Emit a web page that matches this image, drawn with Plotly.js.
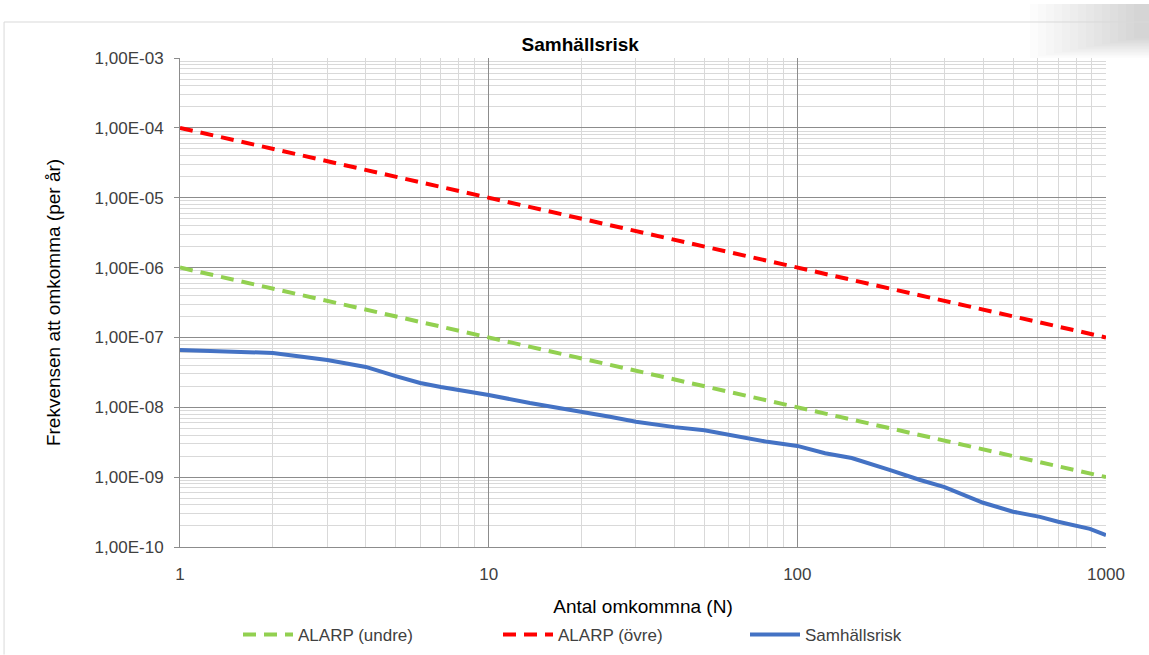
<!DOCTYPE html>
<html>
<head>
<meta charset="utf-8">
<script src="https://cdn.plot.ly/plotly-3.0.1.min.js"></script>
<style>html,body{margin:0;padding:0;background:#fff;}#chart{width:1149px;height:655px;}</style>
</head>
<body>
<div id="chart"></div>
<script>
// ALARP limits
const alarpN = [1, 1000];
const alarpUndre = [1e-6, 1e-9];
const alarpOvre = [1e-4, 1e-7];

// Samhällsrisk (F/N curve)
const riskN = [1, 2, 3, 4, 5, 6, 7, 8, 10, 13.6, 17, 20, 24.7, 30, 40, 50, 60, 70, 80, 100, 123, 150, 172, 200, 250, 300, 400, 500, 611, 700, 887, 1000];
const riskF = [6.6e-8, 6.0e-8, 4.75e-8, 3.78e-8, 2.8e-8, 2.23e-8, 1.95e-8, 1.77e-8, 1.5e-8, 1.15e-8, 9.8e-9, 8.6e-9, 7.3e-9, 6.2e-9, 5.2e-9, 4.7e-9, 4.0e-9, 3.5e-9, 3.2e-9, 2.8e-9, 2.2e-9, 1.88e-9, 1.58e-9, 1.26e-9, 9.1e-10, 7.2e-10, 4.3e-10, 3.2e-10, 2.7e-10, 2.3e-10, 1.82e-10, 1.48e-10];

// Tick labels
const yTickVals = [1e-10, 1e-9, 1e-8, 1e-7, 1e-6, 1e-5, 1e-4, 1e-3];
const yTickText = ["1,00E-10", "1,00E-09", "1,00E-08", "1,00E-07", "1,00E-06", "1,00E-05", "1,00E-04", "1,00E-03"];
const xTickVals = [1, 10, 100, 1000];
const xTickText = ["1", "10", "100", "1000"];

const seriesNames = ["ALARP (undre)", "ALARP (övre)", "Samhällsrisk"];

const FONT = "Liberation Sans, Arial, sans-serif";

const traces = [
  {x: alarpN, y: alarpUndre, name: seriesNames[0], legend: "legend", mode: "lines", line: {color: "#92d050", width: 4, dash: "13px,8px"}},
  {x: alarpN, y: alarpOvre, name: seriesNames[1], legend: "legend2", mode: "lines", line: {color: "#ff0000", width: 4, dash: "13px,8px"}},
  {x: riskN, y: riskF, name: seriesNames[2], legend: "legend3", mode: "lines", line: {color: "#4472c4", width: 4}}
];

// soft grey shadow in the top-right corner
const shadow = [];
for (let i = 0; i < 14; i++) {
  shadow.push({type: "rect", xref: "paper", yref: "paper", layer: "below",
    x0: (1030 + i * 8 - 180) / 926, x1: (1149 - 180) / 926,
    y0: (547 - 58 + i * 1.5) / 489, y1: (547 - 4) / 489,
    fillcolor: "rgba(110,110,110,0.02)", line: {width: 0}});
}

function legendAt(px) {
  return {orientation: "h", x: px / 1149, xref: "container", xanchor: "left", y: 0.0305, yref: "container", yanchor: "middle",
    font: {family: FONT, size: 17, color: "#404040"}, itemwidth: 50, bgcolor: "rgba(0,0,0,0)"};
}

const layout = {
  width: 1149, height: 655,
  margin: {l: 180, r: 43, t: 58, b: 108, autoexpand: false},
  paper_bgcolor: "#ffffff", plot_bgcolor: "#ffffff",
  font: {family: FONT, size: 17, color: "#404040"},
  title: {text: "<b>Samhällsrisk</b>", x: 0.505, xref: "container", xanchor: "center", y: 0.933, yref: "container", yanchor: "middle", font: {family: FONT, size: 19, color: "#000000"}},
  xaxis: {
    type: "log", range: [0, 3], tickvals: xTickVals, ticktext: xTickText,
    showgrid: true, gridcolor: "#8c8c8c", gridwidth: 1,
    minor: {dtick: "D1", showgrid: true, gridcolor: "#d9d9d9", gridwidth: 1},
    showline: true, linecolor: "#8c8c8c", linewidth: 1, mirror: false,
    ticks: "", ticklabelstandoff: 12, zeroline: false,
    tickfont: {family: FONT, size: 17, color: "#404040"},
    title: {text: "Antal omkommna (N)", standoff: 16, font: {family: FONT, size: 19, color: "#000000"}}
  },
  yaxis: {
    type: "log", range: [-10, -3], tickvals: yTickVals, ticktext: yTickText,
    showgrid: true, gridcolor: "#8c8c8c", gridwidth: 1,
    minor: {dtick: "D1", showgrid: true, gridcolor: "#d9d9d9", gridwidth: 1},
    showline: true, linecolor: "#8c8c8c", linewidth: 1,
    ticks: "outside", ticklen: 5, tickcolor: "#8c8c8c", zeroline: false,
    ticklabelstandoff: 7,
    tickfont: {family: FONT, size: 17, color: "#404040"},
    title: {text: "Frekvensen att omkomma (per år)", standoff: 28, font: {family: FONT, size: 19, color: "#000000"}}
  },
  showlegend: true,
  legend: legendAt(238),
  legend2: legendAt(498),
  legend3: legendAt(745),
  shapes: shadow.concat([
    {type: "line", xref: "paper", yref: "paper", x0: -0.190, x1: 1.05, y0: 1.0736, y1: 1.0736, line: {color: "#d9d9d9", width: 1}},
    {type: "line", xref: "paper", yref: "paper", x0: -0.190, x1: -0.190, y0: 1.0736, y1: -0.22, line: {color: "#d9d9d9", width: 1}}
  ])
};

Plotly.newPlot("chart", traces, layout, {displayModeBar: false, staticPlot: true});
</script>
</body>
</html>
